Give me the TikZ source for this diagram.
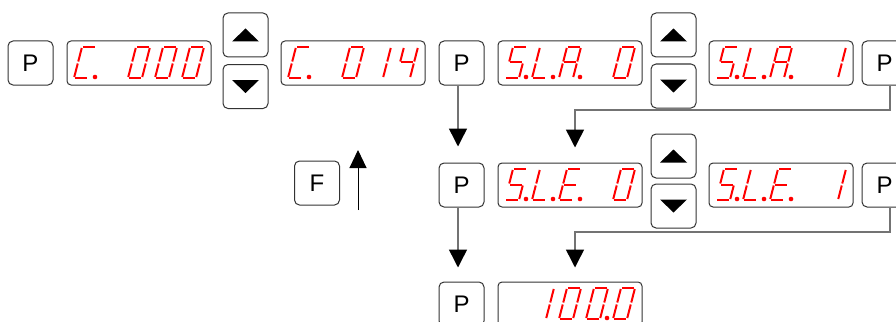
\documentclass[tikz,border=0pt]{standalone}
\usepackage{fontspec}
\setmainfont{Liberation Sans}
\usetikzlibrary{arrows.meta}
\newcommand\sgsa{\draw[seg] (8,-31) -- (22,-31);}
\newcommand\sgsb{\draw[seg] (22,-31) -- (18,-15.5);}
\newcommand\sgsc{\draw[seg] (18,-15.5) -- (14,0);}
\newcommand\sgsd{\draw[seg] (0,0) -- (14,0);}
\newcommand\sgse{\draw[seg] (4,-15.5) -- (0,0);}
\newcommand\sgsf{\draw[seg] (8,-31) -- (4,-15.5);}
\newcommand\sgsg{\draw[seg] (4,-15.5) -- (18,-15.5);}
\newcommand\sgsp{\fill[red] (21,-1) circle (2.3pt);}
\newcommand\dg[3]{\begin{scope}[shift={(#1,#2)}]\foreach \q in {#3}{\csname sgs\q\endcsname}\end{scope}}
\begin{document}
\begin{tikzpicture}[x=1pt,y=-1pt,
  key/.style={draw=black!80, line width=1pt, rounded corners=5pt, minimum width=45pt, minimum height=44pt, inner sep=0pt, font=\fontsize{24}{26}\selectfont},
  disp/.style={draw=black!80, line width=1pt, rounded corners=4pt, minimum width=144pt, minimum height=44pt, inner sep=0pt},
  seg/.style={red, line width=2pt, shorten <=1pt, shorten >=1pt},
  conn/.style={draw=black!55, line width=1.5pt, -{Triangle[width=18pt,length=18pt,color=black]}},
  tri/.style={fill=black}]
\useasboundingbox (0,0) rectangle (896,321);
% row 1
\node[key] (pa) at (30.5,63) {P};
\node[disp] (d1) at (139,63) {};
\node[key] (u1) at (245.5,35) {};
\node[key] (dn1) at (245.5,86.5) {};
\node[disp] (d2) at (353,63) {};
\node[key] (p2) at (461.5,63) {P};
\node[disp] (d3) at (570,63) {};
\node[key] (u2) at (673.5,35) {};
\node[key] (dn2) at (673.5,86) {};
\node[disp] (d4) at (781,63) {};
\node[key] (pr1) at (884.5,63) {P};
% row 2
\node[key] (f) at (317,183) {F};
\node[key] (p4) at (461.5,185) {P};
\node[disp] (d5) at (570,185) {};
\node[key] (u3) at (673.5,156) {};
\node[key] (dn3) at (673.5,206) {};
\node[disp] (d6) at (781,185) {};
\node[key] (pr2) at (884.5,185) {P};
% row 3
\node[key] (p5) at (461.5,304) {P};
\node[disp] (d7) at (570,304) {};
% key triangles
\foreach \k in {u1,u2,u3}{
  \fill[tri] ([shift={(-13.5,6.5)}]\k.center) -- ([shift={(13.5,6.5)}]\k.center) -- ([shift={(0,-6.5)}]\k.center) -- cycle;}
\foreach \k in {dn1,dn2,dn3}{
  \fill[tri] ([shift={(-13.5,-6.5)}]\k.center) -- ([shift={(13.5,-6.5)}]\k.center) -- ([shift={(0,6.5)}]\k.center) -- cycle;}
% digits row 1
\dg{74}{78}{a,d,e,f,p}
\dg{128}{78}{a,b,c,d,e,f}
\dg{155}{78}{a,b,c,d,e,f}
\dg{182}{78}{a,b,c,d,e,f}
\dg{288}{78}{a,d,e,f,p}
\dg{342}{78}{a,b,c,d,e,f}
\dg{369}{78}{b,c}
\dg{396}{78}{f,g,b,c}
\dg{505}{78}{a,f,g,c,d,p}
\dg{532}{78}{f,e,d,p}
\dg{559}{78}{a,b,c,e,f,g,p}
\dg{613}{78}{a,b,c,d,e,f}
\dg{716}{78}{a,f,g,c,d,p}
\dg{743}{78}{f,e,d,p}
\dg{770}{78}{a,b,c,e,f,g,p}
\dg{824}{78}{b,c}
% digits row 2
\dg{505}{200}{a,f,g,c,d,p}
\dg{532}{200}{f,e,d,p}
\dg{559}{200}{a,d,e,f,g,p}
\dg{613}{200}{a,b,c,d,e,f}
\dg{716}{200}{a,f,g,c,d,p}
\dg{743}{200}{f,e,d,p}
\dg{770}{200}{a,d,e,f,g,p}
\dg{824}{200}{b,c}
% digits row 3
\dg{532}{319}{b,c}
\dg{559}{319}{a,b,c,d,e,f}
\dg{586}{319}{a,b,c,d,e,f,p}
\dg{613}{319}{a,b,c,d,e,f}
% connectors
\draw[conn, shorten >=16pt] ([xshift=-3.5pt]p2.south) -- ([xshift=-3.5pt]p4.north);
\draw[conn, shorten >=14pt] ([xshift=-3.5pt]p4.south) -- ([xshift=-3.5pt]p5.north);
\coordinate (t1) at (575,110);
\coordinate (t2) at (575,232);
\draw[conn, shorten >=15pt] ([xshift=5.5pt]pr1.south) |- (t1) -- ([xshift=5pt]d5.north);
\draw[conn, shorten >=14pt] ([xshift=5.5pt]pr2.south) |- (t2) -- ([xshift=5pt]d7.north);
\coordinate (fa0) at (358,210);
\coordinate (fa1) at (358,150);
\draw[black, line width=1pt, -{Triangle[width=17pt,length=18pt]}] (fa0) -- (fa1);
\end{tikzpicture}
\end{document}
